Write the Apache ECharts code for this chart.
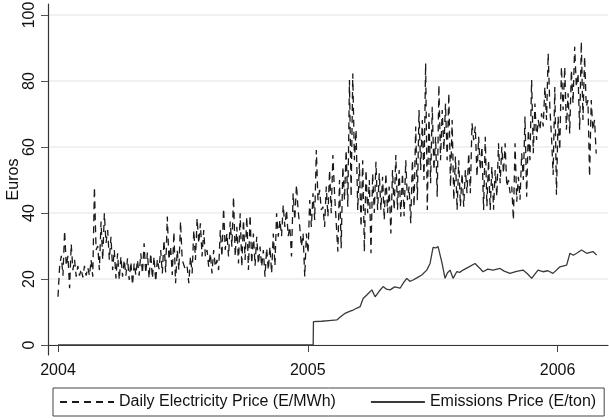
<!DOCTYPE html>
<html>
<head>
<meta charset="utf-8">
<script src="https://cdn.jsdelivr.net/npm/echarts@6/dist/echarts.min.js"></script>
<style>
html,body{margin:0;padding:0;background:#fff;}
#chart{width:609px;height:420px;}
</style>
</head>
<body>
<div id="chart"></div>
<script>
// ---- data ----
const yearTicks = [2004, 2005, 2006];
const yTicks = [0, 20, 40, 60, 80, 100];
const seriesNames = ['Daily Electricity Price (E/MWh)', 'Emissions Price (E/ton)'];
const startYear = 2004;
// electricity: one value every elecStepDays days from 1 Jan 2004
const elecStepDays = 2.42;
const elecValues = [
14.6,24, 27,21, 34.6,24, 27,17.2, 30.6,22.7, 25.8,20.7, 24,21, 23,20.5, 24,21, 23.5,21,
25.8,20.7, 47.8,28.8, 30,22.7, 37.4,25.8, 39.9,30.9, 34.8,25.8, 32.8,22.7, 28.8,20.2, 27.8,19.7, 26.8,20.7,
25.8,21, 26.3,19.7, 25.2,18.2, 24.8,21.2, 25.8,21, 27.8,21.7, 30.8,21.7, 28,20.2, 27.8,20.2, 26.8,19.2,
26,23, 28.8,21.7, 31.8,22, 38.9,25.8, 29.8,21.2, 34.3,18.7, 28.8,22.7, 37.4,25.8, 25.8,22.7, 23.7,18.7,
26.8,21.7, 34.8,25.8, 38.4,30.8, 36.9,26.8, 34.8,26.8, 28.8,23.7, 27.8,21.7, 28.8,23.7, 25.8,22.7, 34.8,26.8,
41.4,28.8, 33.8,26.8, 37.4,29.8, 44.9,26.8, 35.8,24.7, 39.9,23.7, 37.9,25.8, 38.9,22.7, 39.4,24.7, 33.8,24,
32.8,24.5, 29.8,23.7, 28.8,20.7, 29.3,22.7, 29.8,21.7, 33.8,24, 39.9,32.8, 37.9,33, 42.4,35.8, 40.9,33,
35.8,26.8, 46,37.9, 48.5,40.9, 35.8,29.8, 33.8,20.7, 33.8,27.8, 43.9,35.8, 46,37.9, 59.1,43.9, 47,40.9,
41.9,35.8, 48,38.9, 53,39.9, 57.6,46, 46,28.3, 50,29.3, 54,43.9, 59.1,41.9, 80.3,44.9, 82.3,56,
65.2,40.9, 55.1,35.8, 56,28.3, 53,39.9, 50,27.8, 52,40, 55.5,40.9, 52,41, 51,37.9, 52,40,
48,33.8, 53,40.9, 57.6,41, 53,38.9, 52,39, 56,43.9, 48,36.9, 56,41.9, 66.2,43.9, 71.2,53,
68.2,50, 85.4,40.9, 70.2,49, 72.2,53, 63.1,44.9, 78.8,56, 71.2,59.1, 73.2,56, 76.3,48, 68.2,43.9,
57.1,40.9, 56,42, 52,41.9, 53,46, 58.1,46, 67.2,62.1, 66.2,51, 63.1,53, 60.1,40.9, 63.1,42,
56,40.9, 54,41, 53,45, 61.1,49, 60.1,52, 61.1,48, 50,46, 48,37.9, 61.1,43.4, 51,44,
58.1,50, 69.2,44.9, 65.2,56, 80.3,58.1, 73.2,62.1, 68.2,65.2, 70.2,66.2, 78.2,68.2, 88.4,72.2, 63.1,51.5,
78.2,45.5, 69.2,59.1, 84.3,71.2, 84.3,65.2, 76.3,64.1, 83.3,73.2, 90.4,78.2, 82.3,65.2, 91.9,68.2, 87.4,72.2,
74.2,51, 74.2,65.2, 68.2,58
];
// emissions: days since 1 Jan 2004 and values
const emisDays = [0, 372.9, 373.3, 385, 396, 407.5, 412, 419.6, 426, 431.3, 437, 441.5, 445.9, 452, 458.6, 463.4, 469, 475.1, 480, 485.3,
 492, 499.9, 505, 509.7, 514, 518.9, 525, 531.6, 538.9, 543.7, 548.1, 552, 555.4, 560.8, 565.6, 569, 572.9, 577.3, 582.7, 587,
 591.9, 600, 609.4, 616.7, 621.1, 628, 635.7, 645.9, 652, 660.5, 670, 679.5, 686, 692.2, 701.4, 708.7, 716, 723.3, 733.5, 743.3,
 748.1, 753, 757.9, 765.2, 772.5, 781.7, 787.1];
const emisValues = [0, 0, 7.1, 7.2, 7.4, 7.6, 8.4, 9.6, 10.2, 10.6, 11.2, 11.6, 14.1, 15.3, 16.7, 14.6, 16.2, 17.7, 16.9, 16.7,
 17.6, 17.2, 18.9, 20.2, 19.3, 19.7, 20.4, 21.2, 22.7, 24.7, 29.6, 29.4, 29.8, 25.2, 20.2, 21.8, 22.7, 20.2, 22.2, 22.0,
 22.7, 23.6, 24.7, 23.2, 22.2, 23.0, 22.7, 23.2, 22.4, 21.7, 22.3, 22.7, 21.6, 20.2, 22.7, 22.2, 22.5, 21.7, 23.7, 24.2,
 27.8, 27.2, 27.8, 28.8, 27.8, 28.3, 27.3];

// ---- build ----
const elecData = elecValues.map((v, i) => [startYear + (i * elecStepDays) / 365, v]);
const emisData = emisValues.map((v, i) => [startYear + emisDays[i] / 365, v]);

const X_MIN = 2003.96, X_MAX = 2006.202;
const chart = echarts.init(document.getElementById('chart'), null, {renderer: 'canvas'});
const FONT = 'Liberation Sans, Arial, Helvetica, sans-serif';
chart.setOption({
  animation: false,
  backgroundColor: '#ffffff',
  textStyle: {fontFamily: FONT},
  grid: [
    {left: 48, right: 1, top: 4, bottom: 65, containLabel: false, outerBoundsMode: 'none'},
    {left: 48, right: 1, top: 15, bottom: 75, containLabel: false, outerBoundsMode: 'none'}
  ],
  xAxis: [
    {
      type: 'value', gridIndex: 0, min: X_MIN, max: X_MAX,
      axisLine: {show: true, lineStyle: {color: '#333', width: 1.2}},
      axisTick: {show: true, customValues: yearTicks, length: 7, lineStyle: {color: '#444'}},
      axisLabel: {show: true, customValues: yearTicks, formatter: v => String(Math.round(v)),
        fontSize: 16, color: '#111', margin: 8, fontFamily: FONT},
      splitLine: {show: false}
    },
    {type: 'value', gridIndex: 1, min: X_MIN, max: X_MAX, show: false}
  ],
  yAxis: [
    {
      type: 'value', gridIndex: 0, min: -3.03, max: 103.33,
      axisLine: {show: true, lineStyle: {color: '#333', width: 1.2}},
      axisTick: {show: false}, axisLabel: {show: false}, splitLine: {show: false},
      name: 'Euros', nameLocation: 'middle', nameGap: 26, nameRotate: 90,
      nameTextStyle: {fontSize: 16, color: '#111', fontFamily: FONT}
    },
    {
      type: 'value', gridIndex: 1, min: 0, max: 100, interval: 20,
      axisLine: {show: false},
      axisTick: {show: true, length: 7, lineStyle: {color: '#555'}},
      axisLabel: {show: true, rotate: 90, fontSize: 16, color: '#111', margin: 10, fontFamily: FONT,
        align: 'center', verticalAlign: 'bottom', customValues: yTicks},
      splitLine: {show: true, lineStyle: {color: '#ececec', width: 1.5}}
    }
  ],
  legend: {
    left: 53, top: 388,
    orient: 'horizontal',
    borderColor: '#444', borderWidth: 1,
    padding: [6, 8, 6, 6],
    itemWidth: 54, itemHeight: 14, itemGap: 34,
    itemStyle: {opacity: 0},
    textStyle: {fontSize: 16, color: '#111', fontFamily: FONT},
    data: seriesNames
  },
  series: [
    {
      name: seriesNames[0], type: 'line', xAxisIndex: 0, yAxisIndex: 0,
      data: elecData, showSymbol: false, symbol: 'none',
      lineStyle: {color: '#1a1a1a', width: 1.3, type: [7, 5]},
      itemStyle: {color: '#1a1a1a'}
    },
    {
      name: seriesNames[1], type: 'line', xAxisIndex: 0, yAxisIndex: 0,
      data: emisData, showSymbol: false, symbol: 'none',
      lineStyle: {color: '#3a3a3a', width: 1.3},
      itemStyle: {color: '#3a3a3a'}
    }
  ]
});
</script>
</body>
</html>
